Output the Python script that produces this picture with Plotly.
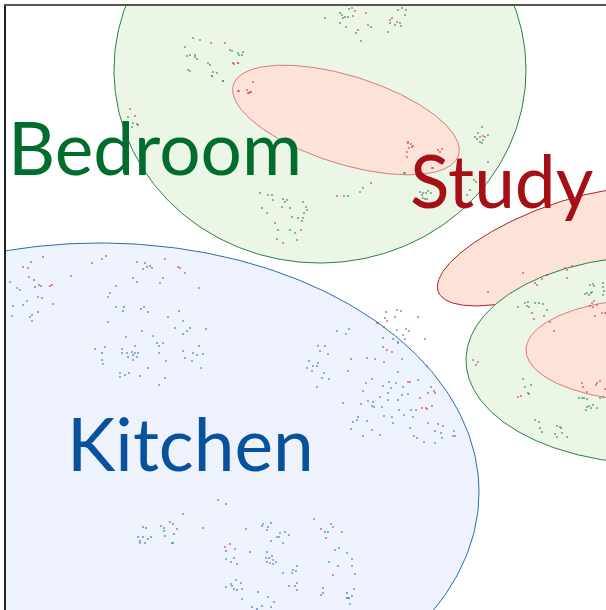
import numpy as np
import plotly.graph_objects as go

# ---- region ellipses (centre, semi-axes, tilt in degrees) ----
region_names = ["Kitchen", "Bedroom", "Bedroom core", "Study", "Study lower", "Study lower core"]
ell_cx = [100, 320, 346, 555, 656, 659]
ell_cy = [492, 70, 120, 247, 360, 350]
ell_rx = [379, 206, 118, 125, 190, 133]
ell_ry = [249, 193, 44, 41, 104, 52]
ell_angle = [0, 0, 17.4, -21, 0, 0]
ell_fill = ["#eef2fd", "#ebf6e6", "#fde2d8", "#fde2d8", "#ebf6e6", "#fde2d8"]
ell_line = ["#2a6bb5", "#2e7d46", "#d9797a", "#b21e24", "#2e7d46", "#d9797a"]

# ---- labels ----
label_text = ["Bedroom", "Study", "Kitchen"]
label_x = [155, 502, 190]
label_y = [147, 180, 443]
label_color = ["#006d2c", "#a50f15", "#08519c"]

# ---- sample points ----
green_x = [185, 187, 190, 195, 197, 208, 210, 213, 217, 188, 190, 200, 230, 238, 242, 223, 212,
           128, 133, 132, 138, 260, 268, 272, 273, 283, 285, 287, 282, 290, 262, 267, 278, 292, 298, 290, 295,
           31, 43, 34, 39, 41, 92, 145, 147, 150, 163, 38, 123, 179, 175, 190, 187, 183, 206, 95, 122, 199,
           146, 151, 148, 145, 164, 164, 173, 177, 165, 172, 203, 226, 271, 218, 289, 252, 232, 237, 347,
           351, 383, 393, 398, 374, 403, 402, 418, 398, 411, 432, 435, 410, 414, 386, 397, 385, 384, 383, 427,
           518, 525, 527, 528, 529, 535, 539, 543, 547, 476, 523, 525, 531, 528, 535, 539, 540, 542, 557, 560,
           555, 557, 562, 567, 561, 587, 589, 591, 593, 594, 603, 604, 579, 582, 584, 587, 586, 587, 589, 591,
           593, 597, 600, 603, 590, 592, 585, 603,
           340, 342, 345, 349, 352, 343, 340, 346, 356, 368, 371, 325, 390, 395, 401, 406, 405, 388,
           482, 475, 477, 480, 482, 483, 485, 488, 478, 488, 433, 404, 420, 422, 423, 426, 428, 431, 425,
           467, 470, 474, 476, 363, 360, 344, 348, 303, 306, 307, 304, 303, 432, 405, 223, 238, 239, 243, 232]
green_y = [47, 56, 55, 57, 59, 63, 65, 72, 73, 70, 71, 40, 50, 53, 55, 81, 76,
           117, 123, 127, 125, 193, 195, 195, 200, 199, 202, 200, 207, 208, 208, 213, 230, 217, 218, 230, 233,
           262, 257, 280, 285, 286, 263, 263, 267, 266, 278, 312, 311, 311, 328, 328, 331, 334, 329, 349, 353, 346,
           528, 537, 539, 543, 528, 531, 524, 529, 536, 543, 528, 551, 523, 500, 586, 607, 586, 590, 593,
           359, 338, 339, 372, 407, 387, 395, 380, 400, 410, 406, 393, 428, 436, 312, 310, 318, 327, 347, 366,
           307, 303, 306, 302, 307, 303, 303, 304, 310, 365, 379, 387, 385, 393, 420, 422, 428, 432, 426, 427,
           434, 437, 433, 437, 428, 293, 295, 293, 284, 286, 295, 291, 398, 398, 398, 399, 410, 407, 406, 408,
           405, 408, 398, 397, 285, 292, 294, 287,
           13, 15, 17, 9, 8, 18, 23, 27, 33, 25, 27, 18, 23, 25, 26, 10, 15, 32,
           127, 137, 139, 142, 143, 140, 137, 135, 133, 162, 168, 173, 192, 195, 198, 193, 191, 193, 199,
           195, 190, 180, 182, 188, 192, 196, 196, 202, 207, 210, 213, 218, 168, 173, 81, 63, 55, 52, 51]

red_x = [193, 211, 225, 233, 238, 195, 212, 253, 247, 248, 250, 238, 130, 135, 137, 275, 283, 297, 277,
         23, 28, 29, 35, 50, 52, 137, 143, 152, 165, 178, 180, 168,
         143, 161, 170, 174, 183, 225, 230, 246, 295, 321, 326, 342, 338, 333, 355,
         408, 410, 422, 426, 427, 420, 428, 434, 443, 401, 395, 387, 377, 378, 418, 387, 392,
         478, 532, 534, 544, 550, 554, 521, 518, 529, 583, 587, 596, 597, 600, 605, 582,
         523, 535, 537, 542, 547, 565, 567, 567, 572, 488, 595, 593, 605, 603, 592, 594, 590, 597, 602,
         348, 353, 358, 361, 355, 366, 390, 392, 400, 398, 402, 480, 483, 407, 408, 423, 427, 371, 337,
         302, 301, 239, 249, 251, 408, 411, 412, 409, 413, 407, 438, 440, 442, 234]
red_y = [38, 43, 43, 63, 63, 55, 76, 82, 90, 93, 92, 91, 109, 116, 124, 223, 243, 240, 239,
         267, 268, 277, 287, 286, 285, 262, 269, 268, 259, 267, 268, 317,
         527, 526, 522, 534, 514, 547, 544, 529, 586, 529, 538, 532, 566, 575, 574,
         382, 382, 408, 408, 409, 398, 393, 391, 426, 311, 317, 321, 323, 323, 317, 350, 352,
         362, 313, 319, 316, 322, 331, 396, 397, 394, 387, 392, 385, 383, 381, 389, 383,
         273, 283, 285, 279, 275, 268, 270, 278, 266, 292, 316, 307, 313, 283, 303, 301, 306, 305, 313,
         17, 16, 30, 41, 11, 13, 20, 18, 23, 10, 8, 137, 136, 152, 143, 193, 199, 183, 196,
         221, 230, 91, 93, 92, 142, 144, 147, 148, 146, 157, 150, 152, 149, 64]

blue_x = [10, 17, 20, 38, 42, 102, 106, 71, 116, 110, 108, 160, 133, 137, 185, 199,
          13, 23, 27, 12, 30, 32, 32, 53, 116, 124, 141, 144, 148, 183, 142, 153, 126, 108, 105, 102, 102, 103,
          122, 127, 128, 132, 133, 135, 137, 138, 133, 135, 157, 159, 163, 159, 166, 183, 185, 193, 197, 203,
          192, 201, 148, 140, 120, 120, 125, 129, 165, 159,
          138, 143, 140, 140, 173, 235, 226, 231, 234, 237, 250, 226, 263, 262, 268, 267, 280, 285, 277, 279,
          289, 271, 283, 267, 272, 269, 266, 273, 276, 267, 270, 273, 297, 293, 296, 283, 292, 297, 297, 258,
          268, 274, 271, 262, 257, 242, 226, 231, 236, 241, 242, 234, 314, 325, 328, 331, 333, 335, 339, 347,
          329, 323, 323, 321, 347, 349, 352, 352, 354, 352, 348, 350,
          337, 346, 349, 318, 325, 320, 328, 309, 313, 307, 317, 318, 312, 324, 322, 329, 317, 348, 367, 375,
          384, 398, 402, 372, 366, 363, 343, 361, 368, 372, 373, 380, 382, 383, 388, 389, 391, 388, 396, 408,
          399, 404, 384, 392, 393, 416, 413, 431, 353, 358, 357, 367, 351, 372, 363, 380, 428, 438, 435, 441,
          417, 424, 435, 442, 454, 455, 453, 425, 406, 409, 403, 397, 398, 405, 473, 397]
blue_y = [282, 288, 290, 297, 298, 259, 256, 276, 286, 293, 297, 283, 278, 282, 273, 288,
          306, 305, 301, 316, 317, 315, 321, 304, 307, 307, 309, 307, 312, 321, 331, 336, 337, 322, 347, 353, 360, 364,
          349, 353, 357, 352, 355, 353, 357, 353, 360, 346, 343, 346, 343, 353, 361, 351, 358, 353, 355, 354,
          361, 368, 368, 376, 373, 377, 375, 373, 378, 385,
          537, 537, 541, 543, 543, 549, 559, 562, 558, 564, 552, 504, 524, 526, 527, 530, 533, 532, 537, 537,
          535, 541, 543, 552, 556, 558, 558, 560, 562, 562, 563, 564, 566, 570, 571, 573, 573, 583, 590, 592,
          597, 602, 607, 606, 609, 599, 587, 584, 580, 583, 589, 589, 519, 532, 532, 524, 527, 550, 548, 553,
          562, 588, 593, 595, 598, 598, 559, 566, 589, 596, 598, 604,
          331, 334, 329, 346, 346, 351, 354, 361, 366, 368, 366, 363, 371, 373, 378, 379, 387, 371, 358, 359,
          362, 342, 359, 379, 383, 391, 403, 404, 401, 406, 402, 397, 407, 386, 393, 382, 388, 400, 383, 394,
          410, 415, 416, 417, 423, 410, 417, 387, 422, 417, 420, 421, 429, 430, 436, 435, 423, 424, 431, 433,
          438, 442, 443, 438, 431, 436, 436, 339, 329, 331, 335, 330, 343, 339, 360, 22]

fig = go.Figure()

t = np.linspace(0, 2 * np.pi, 361)
for i, name in enumerate(region_names):
    th = np.deg2rad(ell_angle[i])
    ex = ell_cx[i] + ell_rx[i] * np.cos(t) * np.cos(th) - ell_ry[i] * np.sin(t) * np.sin(th)
    ey = ell_cy[i] + ell_rx[i] * np.cos(t) * np.sin(th) + ell_ry[i] * np.sin(t) * np.cos(th)
    fig.add_trace(go.Scatter(x=ex, y=ey, mode="lines", fill="toself",
                             fillcolor=ell_fill[i], line=dict(color=ell_line[i], width=1),
                             name=name, hoverinfo="skip", showlegend=False))

for xs, ys, col in [(blue_x, blue_y, "rgba(70,120,200,0.7)"),
                    (green_x, green_y, "rgba(50,140,80,0.7)"),
                    (red_x, red_y, "rgba(215,60,70,0.7)")]:
    fig.add_trace(go.Scatter(x=xs, y=ys, mode="markers",
                             marker=dict(size=2.2, color=col, line=dict(width=0)),
                             showlegend=False, hoverinfo="skip"))

for txt, lx, ly, lc in zip(label_text, label_x, label_y, label_color):
    fig.add_annotation(x=lx, y=ly, text=txt, showarrow=False, xanchor="center", yanchor="middle",
                       font=dict(family="Lato", size=73, color=lc))

fig.update_layout(
    width=606, height=610,
    margin=dict(l=6, r=0, t=6, b=0),
    paper_bgcolor="white", plot_bgcolor="white",
    showlegend=False,
    xaxis=dict(range=[6, 606], side="top", showline=True, linecolor="#555", linewidth=1.5,
               showgrid=False, zeroline=False, showticklabels=False, ticks=""),
    yaxis=dict(range=[610, 6], showline=True, linecolor="#222", linewidth=1.5,
               showgrid=False, zeroline=False, showticklabels=False, ticks=""),
)

fig.write_html("out.html", config={"displayModeBar": False},
               post_script="document.body.style.margin='0px';document.body.style.padding='0px';")
